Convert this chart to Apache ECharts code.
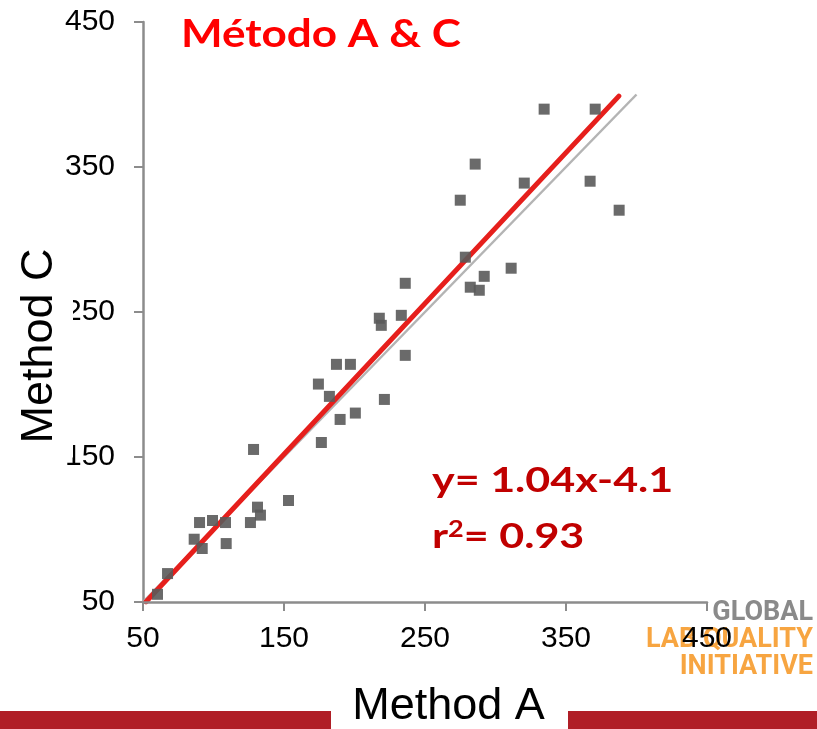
<!DOCTYPE html>
<html>
<head>
<meta charset="utf-8">
<script src="https://cdn.jsdelivr.net/npm/echarts@6/dist/echarts.min.js"></script>
<style>
  html, body { margin: 0; padding: 0; background: #fff; }
  #chart { width: 817px; height: 729px; }
</style>
</head>
<body>
<div id="chart"></div>
<script>
// Paired measurements: Method A (x) vs Method C (y)
const methodA = [60.3, 63.9, 67.4, 86.3, 90.1, 92.0, 99.3, 108.5, 109.0, 126.2,
                 128.4, 131.2, 133.3, 153.2, 174.4, 176.5, 182.2, 187.2, 189.8, 197.1,
                 200.6, 217.6, 219.0, 221.2, 233.2, 236.0, 236.0, 275.0, 278.6, 282.1,
                 285.6, 288.5, 292.0, 311.1, 320.4, 334.5, 367.1, 370.7, 387.7];
const methodC = [55.3, 49.6, 69.6, 93.3, 104.8, 86.9, 106.2, 104.8, 90.3, 104.8,
                 155.2, 115.4, 109.9, 120.0, 200.3, 160.0, 191.8, 213.9, 175.9, 213.9,
                 180.3, 245.7, 240.8, 189.7, 247.7, 269.8, 220.1, 327.1, 287.8, 267.1,
                 352.0, 265.0, 274.6, 280.2, 338.9, 389.9, 340.2, 389.9, 320.2];

// Axis ticks (both axes)
const tickValues = [50, 150, 250, 350, 450];

// Regression result and the line ranges
const fitSlope = 1.04;
const fitIntercept = -4.1;
const fitR2 = 0.93;
const fitRange = [52, 387.5];
const identityRange = [50, 400];

const chart = echarts.init(document.getElementById('chart'), null, { renderer: 'canvas' });

const points = methodA.map((a, i) => [a, methodC[i]]);
const fitLine = fitRange.map(x => [x, +(fitSlope * x + fitIntercept).toFixed(3)]);
const identityLine = identityRange.map(v => [v, v]);

const eqText = 'y= ' + fitSlope.toFixed(2) + 'x' + (fitIntercept < 0 ? '-' : '+') + Math.abs(fitIntercept);
const r2Text = 'r{sup|2}= ' + fitR2.toFixed(2);

const axisLineStyle = { color: '#8c8c8c', width: 2.5 };
const tickLabelStyle = { color: '#000', fontFamily: 'Liberation Sans', fontSize: 30 };

chart.setOption({
  backgroundColor: '#fff',
  animation: false,
  grid: { left: 143, right: 110, top: 22, bottom: 127, containLabel: false, outerBoundsMode: 'none' },
  xAxis: {
    type: 'value', min: 50, max: 450, z: 10,
    axisLine: { show: true, onZero: false, lineStyle: axisLineStyle },
    axisTick: { show: true, length: 9, inside: false, lineStyle: { color: '#8c8c8c', width: 2 }, customValues: tickValues },
    axisLabel: Object.assign({ margin: 22, customValues: tickValues }, tickLabelStyle),
    splitLine: { show: false }
  },
  yAxis: {
    type: 'value', min: 50, max: 450, z: 1,
    axisLine: { show: true, onZero: false, lineStyle: axisLineStyle },
    axisTick: { show: true, length: 9, inside: false, lineStyle: { color: '#8c8c8c', width: 2 }, customValues: tickValues },
    axisLabel: Object.assign({ margin: 28, customValues: tickValues }, tickLabelStyle),
    splitLine: { show: false }
  },
  series: [
    {
      name: 'Identity', type: 'line', data: identityLine, symbol: 'none', z: 2,
      lineStyle: { color: '#b4b4b4', width: 2.5 }, silent: true
    },
    {
      name: 'Fit', type: 'line', data: fitLine, symbol: 'none', z: 3,
      lineStyle: { color: '#e61f1c', width: 5, cap: 'round' }, silent: true
    },
    {
      name: 'Samples', type: 'scatter', data: points, symbol: 'rect', symbolSize: 11, z: 4,
      itemStyle: { color: '#5a5a5a', opacity: 0.9 }
    }
  ],
  graphic: [
    // bottom band
    { type: 'rect', z: 1, shape: { x: 0, y: 711, width: 331, height: 18 }, style: { fill: '#b01e26' } },
    { type: 'rect', z: 1, shape: { x: 568, y: 711, width: 249, height: 18 }, style: { fill: '#b01e26' } },
    // title
    { type: 'text', z: 100, x: 181, y: 34, scaleX: 1.13,
      style: { text: 'Método A & C', fill: '#ff0000', font: 'bold 39px Lato', textAlign: 'left', textVerticalAlign: 'middle' } },
    // regression equation
    { type: 'text', z: 100, x: 432, y: 481, scaleX: 1.23,
      style: { text: eqText, fill: '#c00000', font: 'bold 35px Lato', textAlign: 'left', textVerticalAlign: 'middle' } },
    { type: 'text', z: 100, x: 432, y: 537, scaleX: 1.23,
      style: { text: r2Text, fill: '#c00000', font: 'bold 35px Lato', textAlign: 'left', textVerticalAlign: 'middle',
        rich: { sup: { fill: '#c00000', font: 'bold 22px Lato', verticalAlign: 'top', padding: [0, 0, 14, 0] } } } },
    // axis titles
    { type: 'text', z: 100, x: 448.5, y: 707,
      style: { text: 'Method A', fill: '#000', font: '45px Liberation Sans', textAlign: 'center', textVerticalAlign: 'middle' } },
    { type: 'text', z: 100, x: 40, y: 343, rotation: Math.PI / 2,
      style: { text: 'Method C', fill: '#000', font: '45px Liberation Sans', textAlign: 'center', textVerticalAlign: 'middle',
        backgroundColor: '#fff', padding: [6, 20, 15, 14] } },
    // logo
    { type: 'text', z: 0, x: 813, y: 613,
      style: { text: 'GLOBAL', fill: '#8a8a8a', font: 'bold 27px Roboto', textAlign: 'right', textVerticalAlign: 'middle' } },
    { type: 'text', z: 0, x: 813, y: 640,
      style: { text: 'LAB QUALITY', fill: '#f7a541', font: 'bold 27px Roboto', textAlign: 'right', textVerticalAlign: 'middle' } },
    { type: 'text', z: 0, x: 813, y: 667,
      style: { text: 'INITIATIVE', fill: '#f7a541', font: 'bold 27px Roboto', textAlign: 'right', textVerticalAlign: 'middle' } }
  ]
});
</script>
</body>
</html>
